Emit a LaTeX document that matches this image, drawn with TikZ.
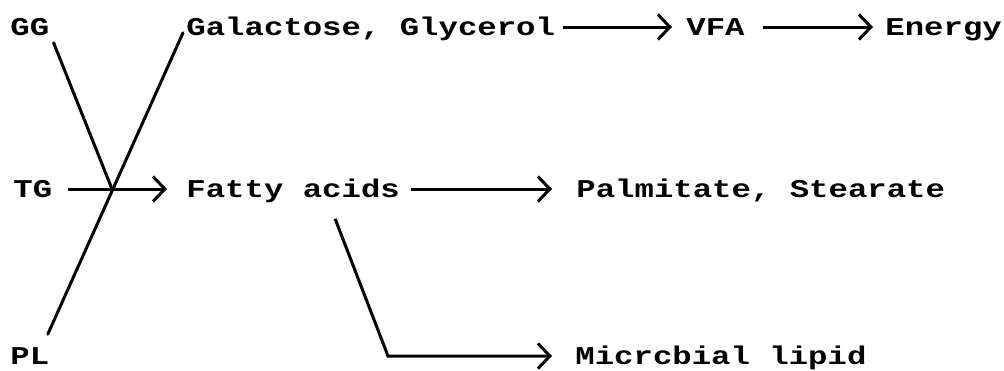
\documentclass[tikz,border=0pt]{standalone}
\usepackage{fontspec}
\usepackage{tikz}
\usetikzlibrary{arrows.meta,positioning}
\newfontfamily\typefont[FakeStretch=1.263]{Liberation Mono}

\begin{document}
\begin{tikzpicture}[
    x=0.5pt, y=-0.5pt,
    compound/.style={inner sep=0pt, text height=8.4pt, text depth=0pt, anchor=west, font=\typefont\bfseries\fontsize{12.8}{14}\selectfont},
    line/.style={draw, line width=1.5pt, -{Straight Barb[length=6pt,width=12.5pt]}},
    cross/.style={draw, line width=1.5pt, line cap=round}
]
    \useasboundingbox (0,0) rectangle (1004,370);

    % Sources
    \node [compound] (gg) at (10,27) {GG};
    \node [compound] (tg) at (13,189) {TG};
    \node [compound] (pl) at (10,356) {PL};

    % Products
    \node [compound] (gal) at (186,27) {Galactose, Glycerol};
    \node [compound] (vfa) at (686,27) {VFA};
    \node [compound] (energy) at (885,27) {Energy};
    \node [compound] (fatty) at (186,189) {Fatty acids};
    \node [compound] (palm) at (576,189) {Palmitate, Stearate};
    \node [compound] (micro) at (575,356) {Micrcbial lipid};

    % Crossing of the hydrolysis lines
    \coordinate (mix) at (112,189);
    \path [cross] ([shift={(2pt,-3.5pt)}]gg.south east) -- (mix);
    \path [cross] ([shift={(-0.9pt,6.5pt)}]pl.north east) -- ([shift={(-1.5pt,1.5pt)}]gal.south west);
    \path [line, shorten <=7.5pt, shorten >=9.5pt] (tg.east) -- (fatty.west);

    % Fates
    \path [line, shorten <=3.7pt, shorten >=7pt] (gal.east) -- (vfa.west);
    \path [line, shorten <=9pt, shorten >=6pt] (vfa.east) -- (energy.west);
    \path [line, shorten <=5.3pt, shorten >=12pt] (fatty.east) -- (palm.west);
    \path [line, shorten >=11.5pt] ([shift={(21pt,-10.5pt)}]fatty.south) -- ([xshift=-93.5pt]micro.west) -- (micro.west);

\end{tikzpicture}
\end{document}
